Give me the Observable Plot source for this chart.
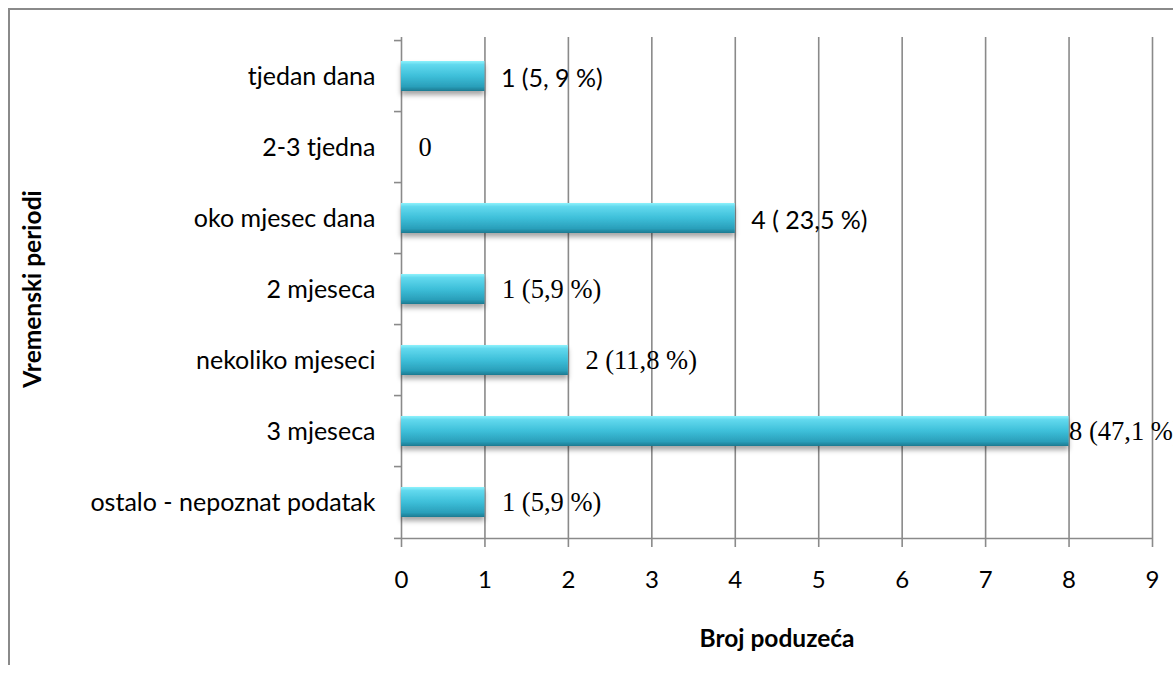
<!DOCTYPE html>
<html>
<head>
<meta charset="utf-8">
<script src="https://cdn.jsdelivr.net/npm/d3@7"></script>
<script src="https://cdn.jsdelivr.net/npm/@observablehq/plot@0.6"></script>
<style>
  html, body { margin: 0; padding: 0; background: #fff; }
  #wrap { position: relative; width: 1173px; height: 675px; overflow: hidden; }
  #border { position: absolute; left: 8px; top: 8px; width: 1200px; height: 657px;
            border-left: 2px solid #8a8a8a; border-top: 2px solid #8a8a8a; box-sizing: border-box; }
  #chart { position: absolute; left: 0; top: 0; }
  .sanslbl text { font-family: Lato, sans-serif !important; }
</style>
</head>
<body>
<div id="wrap"><div id="border"></div><div id="chart"></div></div>
<script>
const categories = ["tjedan dana", "2-3 tjedna", "oko mjesec dana", "2 mjeseca", "nekoliko mjeseci", "3 mjeseca", "ostalo - nepoznat podatak"];
const values = [1, 0, 4, 1, 2, 8, 1];
const valueLabels = ["1 (5, 9 %)", "0", "4 ( 23,5 %)", "1 (5,9 %)", "2 (11,8 %)", "8 (47,1 %)", "1 (5,9 %)"];
const labelFonts = ["sans", "serif", "sans", "serif", "serif", "serif", "serif"];
const xTicks = [0, 1, 2, 3, 4, 5, 6, 7, 8, 9];
const xLabel = "Broj poduzeća";
const yLabel = "Vremenski periodi";

const data = categories.map((c, i) => ({category: c, value: values[i], label: valueLabels[i], font: labelFonts[i]}));

const W = 1173, H = 675, mL = 401, mR = 21, mT = 37, mB = 135;
const step = (H - mT - mB) / categories.length;
const maxV = d3.max(values);
const SANS = "Lato";
const SERIF = "Liberation Serif";
const GRID = "#8a8a8a";

const chart = Plot.plot({
  width: W, height: H,
  marginLeft: mL, marginRight: mR, marginTop: mT, marginBottom: mB,
  style: {fontFamily: SANS, background: "transparent", color: "#000"},
  x: {domain: [0, 9]},
  y: {domain: categories, paddingInner: 0.58, paddingOuter: 0.29},
  marks: [
    Plot.gridX(xTicks, {stroke: GRID, strokeOpacity: 1, strokeWidth: 1.6}),
    Plot.ruleY([categories[categories.length - 1]], {dy: step / 2, stroke: GRID, strokeWidth: 1.6}),
    Plot.barX(data, {y: "category", x: "value", fill: "#3bbdd8"}),
    Plot.axisX({ticks: xTicks, tickSize: 7, tickPadding: 23, stroke: GRID, strokeWidth: 1.6, fontSize: 24, label: null, tickFormat: d => String(d)}),
    Plot.axisY({tickSize: 0, tickPadding: 26, fontSize: 25, label: null}),
    Plot.axisY({tickSize: 7, tickFormat: () => "", dy: -step / 2, stroke: GRID, strokeWidth: 1.6, label: null}),
    Plot.axisY([categories[categories.length - 1]], {tickSize: 7, tickFormat: () => "", dy: step / 2, stroke: GRID, strokeWidth: 1.6, label: null}),
    Plot.text(data.filter(d => d.font === "sans"), {x: "value", y: "category", text: "label", textAnchor: "start", dx: 16, dy: 2, fontSize: 25, fontFamily: SANS, fill: "#000", className: "sanslbl"}),
    Plot.text(data.filter(d => d.font === "serif" && d.value < maxV), {x: "value", y: "category", text: "label", textAnchor: "start", dx: 17, fontSize: 26.5, fontFamily: SERIF, fill: "#000"}),
    Plot.text(data.filter(d => d.font === "serif" && d.value === maxV), {x: "value", y: "category", text: "label", textAnchor: "start", dx: 0, fontSize: 26.5, fontFamily: SERIF, fill: "#000"}),
    Plot.text([xLabel], {frameAnchor: "bottom", text: d => d, dy: 106, fontSize: 24.5, fontWeight: "bold", fontFamily: SANS, fill: "#000"}),
    Plot.text([yLabel], {frameAnchor: "left", textAnchor: "middle", text: d => d, dx: -368, rotate: -90, fontSize: 24.5, fontWeight: "bold", fontFamily: SANS, fill: "#000"})
  ]
});

const svg = d3.select(chart);
const defs = svg.insert("defs", ":first-child");
const grad = defs.append("linearGradient").attr("id", "barGrad").attr("x1", 0).attr("y1", 0).attr("x2", 0).attr("y2", 1);
[[0, "#8df2fc"], [0.12, "#62d9ee"], [0.5, "#3dbfd9"], [0.85, "#2a9fba"], [1, "#1c7a91"]].forEach(([o, c]) =>
  grad.append("stop").attr("offset", o).attr("stop-color", c));
const filt = defs.append("filter").attr("id", "barShadow").attr("x", "-10%").attr("y", "-30%").attr("width", "120%").attr("height", "190%");
filt.append("feDropShadow").attr("dx", 0).attr("dy", 4).attr("stdDeviation", 2.5).attr("flood-color", "#000").attr("flood-opacity", 0.35);
svg.selectAll('g[aria-label="bar"]').attr("fill", "url(#barGrad)").attr("filter", "url(#barShadow)");
svg.selectAll('g[aria-label="bar"] rect').attr("fill", "url(#barGrad)");
svg.selectAll('g[aria-label="text"]').filter(function() { return d3.select(this).attr("font-size") == "25"; }).attr("font-family", "Lato");

document.getElementById("chart").appendChild(chart);
</script>
</body>
</html>
